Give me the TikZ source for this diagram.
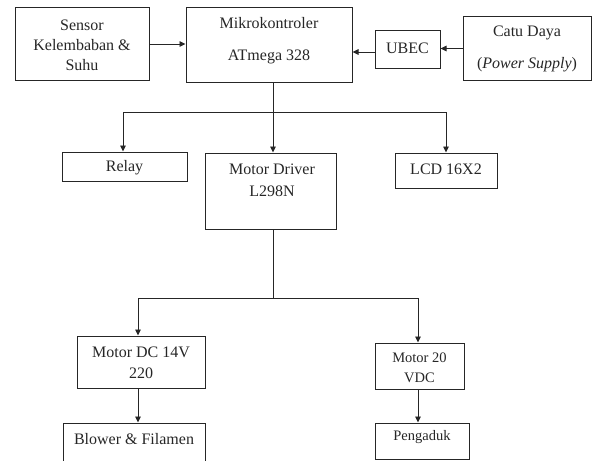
\documentclass[tikz,border=0pt]{standalone}
\usepackage{fontspec}
\setmainfont{Liberation Serif}
\usetikzlibrary{arrows.meta}
\begin{document}
\begin{tikzpicture}[x=1pt,y=-1pt,
  box/.style={draw=black!85,line width=1pt,inner sep=0pt,rectangle},
  txt/.style={text=black!85,align=center,inner sep=0pt,font=\fontsize{16}{20}\selectfont},
  small/.style={text=black!85,align=center,inner sep=0pt,font=\fontsize{14.5}{20}\selectfont},
  arr/.style={draw=black!85,line width=0.9pt,-{Triangle[length=6pt,width=5.5pt]}},
  ln/.style={draw=black!85,line width=0.9pt}]
\useasboundingbox (0,0) rectangle (596,460);
\clip (0,0) rectangle (596,460);
% boxes
\node[box,minimum width=134pt,minimum height=72pt] (sensor) at (82,44) {};
\node[box,minimum width=166pt,minimum height=74pt] (mikro) at (269,45) {};
\node[box,minimum width=65pt,minimum height=37pt] (ubec) at (407.5,49.5) {};
\node[box,minimum width=128pt,minimum height=63pt] (catu) at (527,48.5) {};
\node[box,minimum width=125pt,minimum height=29pt] (relay) at (124.5,166.5) {};
\node[box,minimum width=131pt,minimum height=76pt] (driver) at (270.5,191) {};
\node[box,minimum width=102pt,minimum height=35pt] (lcd) at (446,170.5) {};
\node[box,minimum width=128pt,minimum height=52pt] (mdc) at (141,362) {};
\node[box,minimum width=89pt,minimum height=46pt] (m20) at (419.5,366) {};
\node[box,minimum width=142pt,minimum height=60pt] (blower) at (134,453) {};
\node[box,minimum width=94pt,minimum height=36pt] (peng) at (422,441) {};
% texts
\node[txt] (t-sensor) at (82,45) {Sensor\\Kelembaban \&\\Suhu};
\node[txt,font=\fontsize{16}{32}\selectfont] (t-mikro) at (269,41) {Mikrokontroler\\ATmega 328};
\node[txt] (t-ubec) at (407.5,48) {UBEC};
\node[txt,font=\fontsize{16}{32}\selectfont] (t-catu) at (527,49) {Catu Daya\\(\textit{Power Supply})};
\node[txt] (t-relay) at (124.5,168) {Relay};
\node[txt,font=\fontsize{16}{22}\selectfont] (t-driver) at (272,180) {Motor Driver\\L298N};
\node[txt] (t-lcd) at (446,169) {LCD 16X2};
\node[txt,font=\fontsize{16}{21}\selectfont] (t-mdc) at (141,362.5) {Motor DC 14V\\220};
\node[small] (t-m20) at (419.5,368) {Motor 20\\VDC};
\node[txt] (t-blower) at (134,439) {Blower \& Filamen};
\node[small] (t-peng) at (422,437) {Pengaduk};
% connectors
\coordinate (s1) at (273,112);
\coordinate (s2) at (273,298);
\draw[arr] (sensor.east) -- (mikro.west |- sensor.east);
\draw[arr] (catu.west) -- (ubec.east |- catu.west);
\draw[arr] ([yshift=-2.5pt]ubec.west) -- ([yshift=-2.5pt]ubec.west -| mikro.east);
\draw[ln] (mikro.south -| s1) -- (s1);
\draw[arr] (s1) -- (driver.north -| s1);
\draw[arr] (s1) -| ([xshift=-1.5pt]relay.north);
\draw[arr] (s1) -| (lcd.north);
\draw[ln] (driver.south -| s2) -- (s2);
\draw[arr] (s2) -| ([xshift=-3pt]mdc.north);
\draw[arr] (s2) -| ([xshift=-1.5pt]m20.north);
\draw[arr] ([xshift=-3pt]mdc.south) -- ([xshift=-3pt]mdc.south |- blower.north);
\draw[arr] ([xshift=-1.5pt]m20.south) -- ([xshift=-1.5pt]m20.south |- peng.north);
\end{tikzpicture}
\end{document}
